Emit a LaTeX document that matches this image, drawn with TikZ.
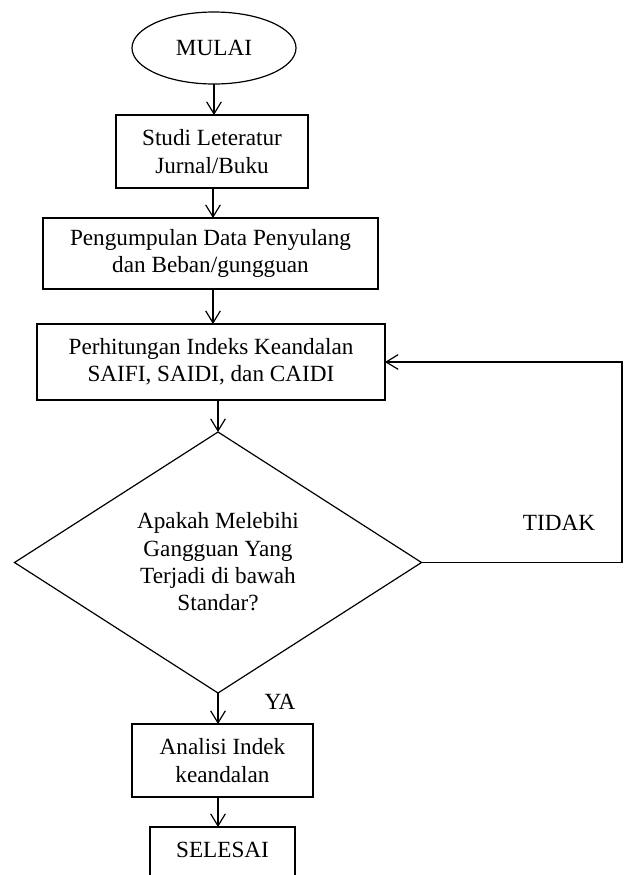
\documentclass[tikz,border=0pt]{standalone}
\usepackage{fontspec}
\setmainfont{Liberation Serif}
\usetikzlibrary{shapes.geometric,arrows.meta}
\begin{document}
\begin{tikzpicture}[x=0.75pt,y=-0.75pt,
  every node/.style={font=\fontsize{17.4}{20.5}\selectfont, align=center, inner sep=0pt, outer sep=0pt},
  procbox/.style={draw, rectangle, line width=0.9pt},
  arr/.style={draw, line width=0.9pt, -{Straight Barb[length=9pt,width=11pt,line width=0.9pt]}},
  conn/.style={draw, line width=0.9pt}]
\useasboundingbox (0,0) rectangle (628,875);
\clip (0,0) rectangle (628,875);
\node[draw, ellipse, line width=0.9pt, minimum width=123pt, minimum height=54pt] (start) at (214,48) {MULAI};
\node[procbox, minimum width=144pt, minimum height=54.75pt] (b1) at (212,151.5) {Studi Leteratur\\Jurnal/Buku};
\node[procbox, minimum width=251.25pt, minimum height=53.25pt] (b2) at (210.5,253.5) {Pengumpulan Data Penyulang\\dan Beban/gungguan};
\node[procbox, minimum width=261pt, minimum height=57pt] (b3) at (211,362) {Perhitungan Indeks Keandalan\\SAIFI, SAIDI, dan CAIDI};
\node[draw, diamond, line width=0.9pt, minimum width=305.25pt, minimum height=195.75pt] (d) at (218,562.5) {};
\node (dt) at (218,562) {Apakah Melebihi\\Gangguan Yang\\Terjadi di bawah\\Standar?};
\node[procbox, minimum width=135.75pt, minimum height=54.75pt] (b4) at (222.5,760.5) {Analisi Indek\\keandalan};
\node[minimum width=108.75pt, minimum height=34.5pt] (e) at (222.5,850) {SELESAI};
\draw[conn] ([yshift=-40pt]e.south west) -- (e.north west) -- (e.north east) -- ([yshift=-40pt]e.south east);
\node (tidak) at (559,523) {TIDAK};
\node (ya) at (280,702) {YA};
\coordinate (r) at (622,0);
\draw[arr] (start.south) -- (b1.north -| start.south);
\draw[arr] (b1.south -| 213,0) -- (b2.north -| 213,0);
\draw[arr] (b2.south -| 213,0) -- (b3.north -| 213,0);
\draw[arr] (b3.south -| d.north) -- (d.north);
\draw[arr] (d.south) -- (d.south |- b4.north);
\draw[arr] (d.south |- b4.south) -- (d.south |- e.north);
\draw[arr] (d.east) -- (d.east -| r) |- (b3.east);
\end{tikzpicture}
\end{document}
